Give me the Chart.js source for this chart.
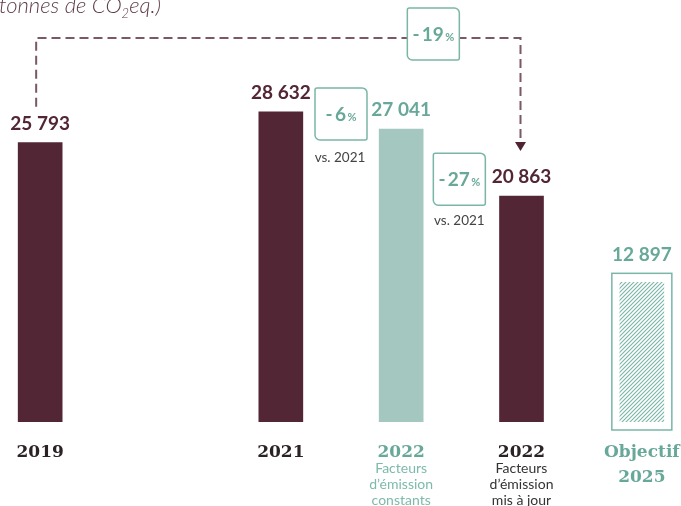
<!DOCTYPE html>
<html>
<head>
<meta charset="utf-8">
<script src="https://cdn.jsdelivr.net/npm/chart.js@4.4.1/dist/chart.umd.min.js"></script>
<style>
  html, body { margin: 0; padding: 0; background: #fff; overflow: hidden; }
  #wrap { position: absolute; left: -20px; top: 0; width: 722px; height: 506px; }
</style>
</head>
<body>
<div id="wrap"><canvas id="chart"></canvas></div>
<script>
// Data
const categories = ['2019', '2020', '2021', '2022 constants', '2022 mis à jour', 'Objectif 2025'];
const emissions = [25793, null, 28632, 27041, 20863, 12897];
const valueLabels = ['25 793', '', '28 632', '27 041', '20 863', '12 897'];
const yearLabels = [['2019'], [], ['2021'], ['2022'], ['2022'], ['Objectif', '2025']];
const subLabels = [[], [], [], ['Facteurs', 'd’émission', 'constants'], ['Facteurs', 'd’émission', 'mis à jour'], []];
const changeLabels = ['-6', '-27', '-19'];

const MAROON = '#532635';
const TEAL_BAR = '#a4c8c0';
const TEAL_TEXT = '#68a899';
const TEAL_LINE = '#79b6a8';
const DASH = '#7b5866';

// hatch for the target bar
function makeHatch() {
    const c = document.createElement('canvas');
    c.width = 4; c.height = 4;
    const g = c.getContext('2d');
    g.strokeStyle = TEAL_LINE;
    g.lineWidth = 1.1;
    g.beginPath();
    g.moveTo(-1, 5); g.lineTo(5, -1);
    g.moveTo(-1, 1); g.lineTo(1, -1);
    g.moveTo(3, 5); g.lineTo(5, 3);
    g.stroke();
    return g.createPattern(c, 'repeat');
}
const ctx0 = document.getElementById('chart').getContext('2d');
const hatch = makeHatch();

const barColors = [MAROON, MAROON, MAROON, TEAL_BAR, MAROON, hatch];
const labelColors = [MAROON, MAROON, MAROON, TEAL_TEXT, MAROON, TEAL_TEXT];
const yearColors = ['#2a2226', '#2a2226', '#2a2226', TEAL_TEXT, '#2a2226', TEAL_TEXT];
const subColors = ['#333', '#333', '#333', '#7dbaab', '#333', '#333'];

function pctBox(ctx, cx, top, txt) {
    const w = 52, h = 52, left = cx - w / 2;
    ctx.save();
    ctx.fillStyle = '#fff';
    ctx.strokeStyle = TEAL_LINE;
    ctx.lineWidth = 1.5;
    ctx.beginPath();
    ctx.roundRect(left, top, w, h, [2, 5, 2, 5]);
    ctx.fill();
    ctx.stroke();
    ctx.fillStyle = TEAL_TEXT;
    ctx.textBaseline = 'alphabetic';
    ctx.font = 'bold 19px Lato';
    const main = txt.replace('-', '-\u2009');
    const mw = ctx.measureText(main).width;
    ctx.font = 'bold 11px Lato';
    const pw = ctx.measureText('\u2009%').width;
    const x0 = cx - (mw + pw) / 2;
    const base = top + h / 2 + 7;
    ctx.font = 'bold 19px Lato';
    ctx.textAlign = 'left';
    ctx.fillText(main, x0, base);
    ctx.font = 'bold 11px Lato';
    ctx.fillText('\u2009%', x0 + mw, base);
    ctx.restore();
}

const decorations = {
    id: 'decorations',
    afterDatasetsDraw(chart) {
        const ctx = chart.ctx;
        const bars = chart.getDatasetMeta(0).data;
        const base = chart.scales.y.getPixelForValue(0);

        // outline round the target bar
        const t = bars[5];
        ctx.save();
        ctx.strokeStyle = TEAL_LINE;
        ctx.lineWidth = 1.5;
        ctx.strokeRect(t.x - 30, t.y - 9, 60, base - t.y + 17);
        ctx.restore();

        // value labels
        ctx.save();
        ctx.textAlign = 'center';
        ctx.font = 'bold 19px Lato';
        emissions.forEach((v, i) => {
            if (v == null) return;
            const b = bars[i];
            ctx.fillStyle = labelColors[i];
            const y = i === 5 ? b.y - 21 : b.y - 13;
            ctx.fillText(valueLabels[i], b.x, y);
        });
        ctx.restore();

        // category labels
        ctx.save();
        ctx.textAlign = 'center';
        categories.forEach((c, i) => {
            const x = bars[i].x;
            ctx.font = 'bold 17px "DejaVu Serif"';
            ctx.fillStyle = yearColors[i];
            yearLabels[i].forEach((l, k) => ctx.fillText(l, x, 457 + k * 25));
            ctx.font = '14px Lato';
            ctx.fillStyle = subColors[i];
            subLabels[i].forEach((l, k) => ctx.fillText(l, x, 473 + k * 16));
        });
        ctx.restore();

        // dashed connector 2019 -> 2022
        const x1 = bars[0].x - 4, x2 = bars[4].x - 1, yTop = 38;
        const arrowTip = bars[4].y - 45;
        ctx.save();
        ctx.strokeStyle = DASH;
        ctx.lineWidth = 2;
        ctx.setLineDash([9, 5]);
        ctx.beginPath();
        ctx.moveTo(x1, bars[0].y - 36);
        ctx.lineTo(x1, yTop);
        ctx.lineTo(x2, yTop);
        ctx.lineTo(x2, arrowTip - 8);
        ctx.stroke();
        ctx.setLineDash([]);
        ctx.fillStyle = '#4e2433';
        ctx.beginPath();
        ctx.moveTo(x2 - 5.5, arrowTip - 9);
        ctx.lineTo(x2 + 5.5, arrowTip - 9);
        ctx.lineTo(x2, arrowTip);
        ctx.closePath();
        ctx.fill();
        ctx.restore();

        // percentage boxes
        pctBox(ctx, (bars[2].x + bars[3].x) / 2, bars[2].y - 24, changeLabels[0]);
        pctBox(ctx, (bars[3].x + bars[4].x) / 2 - 2, bars[3].y + 24, changeLabels[1]);
        pctBox(ctx, (bars[3].x + bars[4].x) / 2 - 28, 8, changeLabels[2]);

        ctx.save();
        ctx.fillStyle = '#444';
        ctx.font = '13.5px Lato';
        ctx.textAlign = 'center';
        ctx.fillText('vs. 2021', (bars[2].x + bars[3].x) / 2 - 1, bars[2].y + 50);
        ctx.fillText('vs. 2021', (bars[3].x + bars[4].x) / 2 - 2, bars[3].y + 96);
        ctx.restore();

        // title, partly cut off at the top left
        ctx.save();
        ctx.fillStyle = '#5e3b4b';
        ctx.textAlign = 'left';
        ctx.font = 'italic 300 22px Lato';
        let x = 19 - ctx.measureText('(').width;
        const s1 = '(tonnes de CO';
        ctx.fillText(s1, x, 13);
        x += ctx.measureText(s1).width;
        ctx.font = 'italic 300 13px Lato';
        ctx.fillText('2', x, 18);
        x += ctx.measureText('2').width;
        ctx.font = 'italic 300 22px Lato';
        ctx.fillText('eq.)', x, 13);
        ctx.restore();
    }
};

new Chart(ctx0, {
    type: 'bar',
    data: {
        labels: categories,
        datasets: [{
            data: emissions,
            backgroundColor: barColors,
            borderWidth: 0,
            barThickness: 44
        }]
    },
    options: {
        responsive: true,
        maintainAspectRatio: false,
        animation: false,
        layout: { padding: { left: 0, right: 0, top: 0, bottom: 84 } },
        plugins: { legend: { display: false }, tooltip: { enabled: false } },
        scales: {
            x: { display: false, grid: { display: false } },
            y: { display: false, min: 0, max: 38966 }
        }
    },
    plugins: [decorations]
});
</script>
</body>
</html>
